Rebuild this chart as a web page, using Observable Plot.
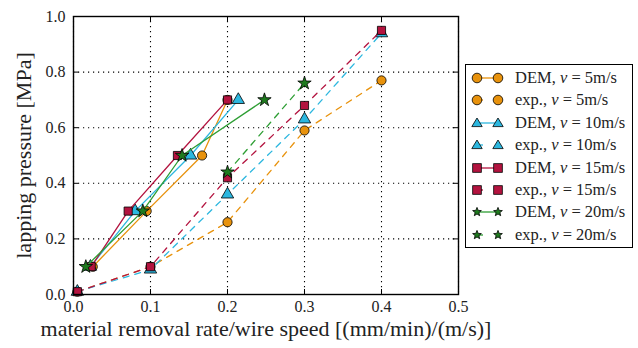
<!DOCTYPE html>
<html><head><meta charset="utf-8">
<script src="https://cdn.jsdelivr.net/npm/d3@7"></script>
<script src="https://cdn.jsdelivr.net/npm/@observablehq/plot@0.6"></script>
<style>
body{margin:0;background:#fff;font-family:"Liberation Serif","DejaVu Serif",serif;}
#wrap{position:relative;width:638px;height:348px;}
#legend{position:absolute;left:465px;top:64px;width:168px;height:184px;border:1.3px solid #000;box-sizing:border-box;background:#fff;}
.row{position:absolute;left:0;height:20px;display:flex;align-items:center;}
.row svg{margin-left:4px;}
.row span{margin-left:9px;font-size:16.5px;color:#222;white-space:nowrap;}
</style></head>
<body><div id="wrap"><div id="chart"></div><div id="legend"></div></div>
<script>
const xTicks = [0.0, 0.1, 0.2, 0.3, 0.4, 0.5];
const yTicks = [0.0, 0.2, 0.4, 0.6, 0.8, 1.0];
const seriesNames = ["DEM, v = 5m/s","exp., v = 5m/s","DEM, v = 10m/s","exp., v = 10m/s","DEM, v = 15m/s","exp., v = 15m/s","DEM, v = 20m/s","exp., v = 20m/s"];
const speeds = ["5","10","15","20"];
const colors = ["#e8920c","#2cb7df","#b3133f","#2e9e34"];
const markers = ["circle","triangle","square","star"];

// DEM series
const dem5x = [0.025, 0.095, 0.167, 0.200];
const dem5y = [0.10, 0.30, 0.50, 0.70];
const dem10x = [0.022, 0.080, 0.152, 0.214];
const dem10y = [0.10, 0.30, 0.50, 0.70];
const dem15x = [0.023, 0.071, 0.135, 0.200];
const dem15y = [0.10, 0.30, 0.50, 0.70];
const dem20x = [0.016, 0.090, 0.141, 0.248];
const dem20y = [0.10, 0.30, 0.50, 0.70];
// experimental series
const exp5x = [0.005, 0.100, 0.200, 0.300, 0.400];
const exp5y = [0.01, 0.10, 0.26, 0.59, 0.77];
const exp10x = [0.005, 0.100, 0.200, 0.300, 0.400];
const exp10y = [0.01, 0.09, 0.36, 0.63, 0.94];
const exp15x = [0.005, 0.100, 0.200, 0.300, 0.400];
const exp15y = [0.01, 0.10, 0.42, 0.68, 0.95];
const exp20x = [0.200, 0.300];
const exp20y = [0.44, 0.76];

const demX=[dem5x,dem10x,dem15x,dem20x], demY=[dem5y,dem10y,dem15y,dem20y];
const expX=[exp5x,exp10x,exp15x,exp20x], expY=[exp5y,exp10y,exp15y,exp20y];
const rows=[];
for(let i=0;i<4;i++){
  demX[i].forEach((x,j)=>rows.push({kind:"DEM",s:i,x,y:demY[i][j]}));
  expX[i].forEach((x,j)=>rows.push({kind:"exp",s:i,x,y:expY[i][j]}));
}
const fills=["#e8920c","#2cb7df","#b3133f","#1f7a1f"];
const marks=[
  Plot.gridX(xTicks,{stroke:"#000",strokeOpacity:1,strokeDasharray:"1.2,3.8",strokeWidth:1.1}),
  Plot.gridY(yTicks,{stroke:"#000",strokeOpacity:1,strokeDasharray:"1.2,3.8",strokeWidth:1.1}),
];
for(let i=0;i<4;i++){
  const d=rows.filter(r=>r.kind==="DEM"&&r.s===i), e=rows.filter(r=>r.kind==="exp"&&r.s===i);
  const r=markers[i]==="star"?4.2:4.6;
  marks.push(Plot.line(d,{x:"x",y:"y",stroke:colors[i],strokeWidth:1.3}));
  marks.push(Plot.dot(d,{x:"x",y:"y",symbol:()=>markers[i],fill:fills[i],stroke:"#000",strokeWidth:0.8,r}));
  marks.push(Plot.line(e,{x:"x",y:"y",stroke:colors[i],strokeWidth:1.3,strokeDasharray:"6,6"}));
  marks.push(Plot.dot(e,{x:"x",y:"y",symbol:()=>markers[i],fill:fills[i],stroke:"#000",strokeWidth:0.8,r}));
}
marks.push(
  Plot.ruleX(xTicks,{y1:0,y2:0.018,stroke:"#000"}),
  Plot.ruleX(xTicks,{y1:1,y2:0.982,stroke:"#000"}),
  Plot.ruleY(yTicks,{x1:0,x2:0.007,stroke:"#000"}),
  Plot.ruleY(yTicks,{x1:0.5,x2:0.493,stroke:"#000"}),
  Plot.frame({stroke:"#000",strokeWidth:1.4}),
  Plot.axisX(xTicks,{tickSize:0,tickPadding:6,tickFormat:d3.format(".1f"),fontSize:16,label:null}),
  Plot.axisY(yTicks,{tickSize:0,tickPadding:8,tickFormat:d3.format(".1f"),fontSize:16,label:null})
);
const chart=Plot.plot({
  width:638,height:348,
  marginLeft:73,marginRight:180,marginTop:16,marginBottom:54,
  style:{fontFamily:"Liberation Serif, DejaVu Serif, serif",color:"#222",background:"#fff",overflow:"visible"},
  x:{domain:[0,0.5]},
  y:{domain:[0,1]},
  symbol:{type:"identity"},
  marks:[
    ...marks,
    Plot.text(["material removal rate/wire speed [(mm/min)/(m/s)]"],{frameAnchor:"bottom",textAnchor:"middle",dy:41,text:d=>d,fontSize:22,fill:"#222"}),
    Plot.text(["lapping pressure [MPa]"],{frameAnchor:"left",textAnchor:"middle",dx:-50,rotate:-90,text:d=>d,fontSize:22,fill:"#222"})
  ]
});
document.getElementById("chart").appendChild(chart);

// legend
const leg=document.getElementById("legend");
const sym=(m,c,cx,cy)=>{
  if(m==="circle") return `<circle cx="${cx}" cy="${cy}" r="4.8" fill="${c}" stroke="#000" stroke-width="0.8"/>`;
  if(m==="square") return `<rect x="${cx-4.3}" y="${cy-4.3}" width="8.6" height="8.6" fill="${c}" stroke="#000" stroke-width="0.8"/>`;
  if(m==="triangle") return `<path d="M${cx},${cy-5}L${cx+5.2},${cy+3.6}L${cx-5.2},${cy+3.6}Z" fill="${c}" stroke="#000" stroke-width="0.8"/>`;
  const p=[];for(let k=0;k<10;k++){const a=-Math.PI/2+k*Math.PI/5,r=k%2?2:4.6;p.push([cx+r*Math.cos(a),cy+r*Math.sin(a)]);}
  return `<path d="M${p.map(q=>q.join(",")).join("L")}Z" fill="${c}" stroke="#000" stroke-width="0.8"/>`;
};
seriesNames.forEach((name,k)=>{
  const i=Math.floor(k/2), dem=k%2===0;
  const line=dem?`<line x1="7" x2="28" y1="10" y2="10" stroke="${colors[i]}" stroke-width="1.3"/>`:`<line x1="7" x2="13" y1="10" y2="10" stroke="${colors[i]}" stroke-width="1.3"/>`;
  const parts=name.split("v");
  const row=document.createElement("div");row.className="row";row.style.top=(3+k*22.4)+"px";
  row.innerHTML=`<svg width="36" height="20">${line}${sym(markers[i],fills[i],7,10)}${sym(markers[i],fills[i],28,10)}</svg><span>${parts[0]}<i>v</i>${parts[1]}</span>`;
  leg.appendChild(row);
});
</script></body></html>
